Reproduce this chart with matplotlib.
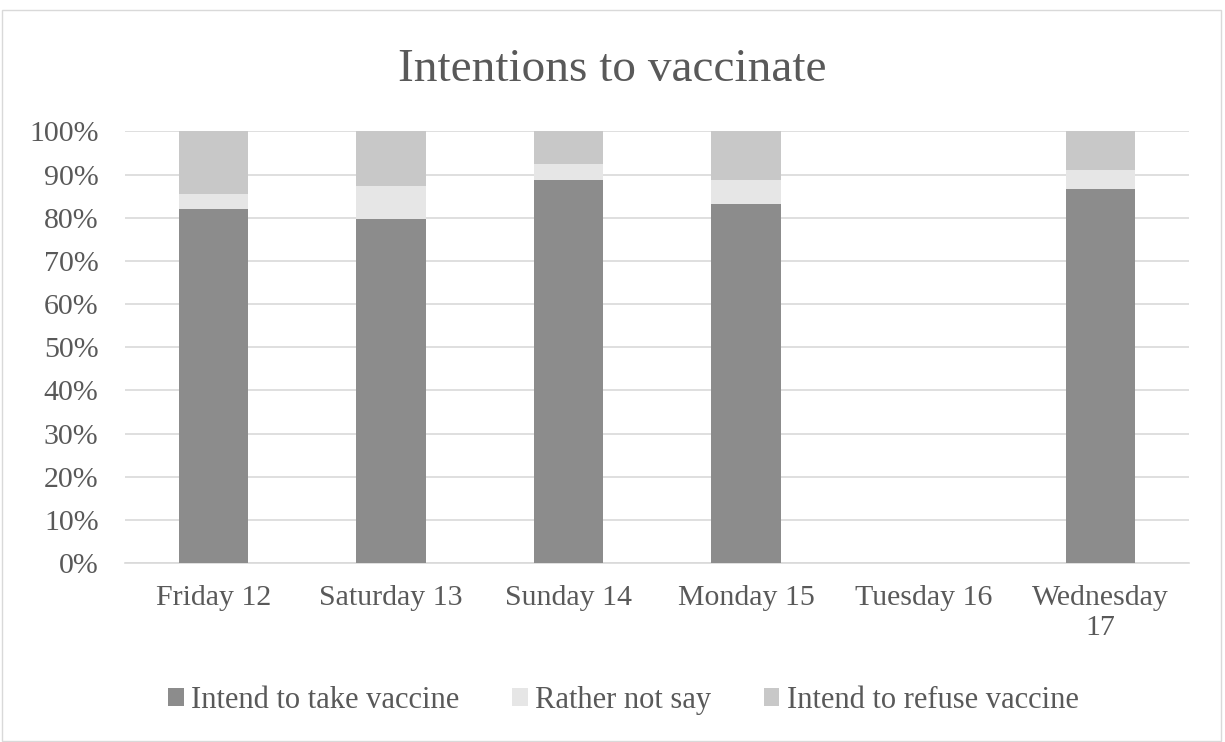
import matplotlib.pyplot as plt
import matplotlib.patches as mpatches
import numpy as np

plt.rcParams['font.family'] = ['Liberation Serif', 'DejaVu Serif']

days = ['Friday 12', 'Saturday 13', 'Sunday 14', 'Monday 15', 'Tuesday 16', 'Wednesday\n17']
take = [82.1, 79.6, 88.7, 83.1, 0, 86.6]
rather_not = [3.4, 7.7, 3.7, 5.7, 0, 4.4]
refuse = [14.5, 12.7, 7.6, 11.2, 0, 9.0]

take = np.array(take)
rather_not = np.array(rather_not)
refuse = np.array(refuse)

txt = '#595959'

fig = plt.figure(figsize=(12.25, 7.42), dpi=100)
ax = fig.add_axes([0.102, 0.241, 0.869, 0.582])

x = np.arange(len(days))
w = 0.39
ax.bar(x, take, w, color='#8c8c8c', label='Intend to take vaccine', zorder=3)
ax.bar(x, rather_not, w, bottom=take, color='#e6e6e6', label='Rather not say', zorder=3)
ax.bar(x, refuse, w, bottom=take + rather_not, color='#c8c8c8', label='Intend to refuse vaccine', zorder=3)

ax.set_xlim(-0.5, len(days) - 0.5)
ax.set_ylim(0, 100)
ax.set_yticks(np.arange(0, 101, 10))
ax.set_yticklabels([f'{v}%' for v in range(0, 101, 10)], fontsize=21.5, color=txt)
ax.set_xticks(x)
ax.set_xticklabels(days, fontsize=21.5, color=txt, linespacing=1.2)
ax.tick_params(axis='y', length=0, pad=19)
ax.tick_params(axis='x', length=0, pad=16)
ax.grid(axis='y', color='#d9d9d9', linewidth=1.2, zorder=0)
for s in ['top', 'right', 'left']:
    ax.spines[s].set_visible(False)
ax.spines['bottom'].set_color('#d9d9d9')
ax.spines['bottom'].set_linewidth(1.2)

fig.suptitle('Intentions to vaccinate', fontsize=34, color=txt, y=0.935)

fig.legend(loc='center', bbox_to_anchor=(0.5086, 0.056), ncol=3, frameon=False,
           fontsize=22, handlelength=0.52, handleheight=0.52, handletextpad=0.23,
           columnspacing=1.73, labelcolor=txt)

fig.patches.append(mpatches.Rectangle((0.002, 0.002), 0.995, 0.985, transform=fig.transFigure,
                                      fill=False, edgecolor='#d9d9d9', linewidth=1))

fig.savefig('out.png', dpi=100)
